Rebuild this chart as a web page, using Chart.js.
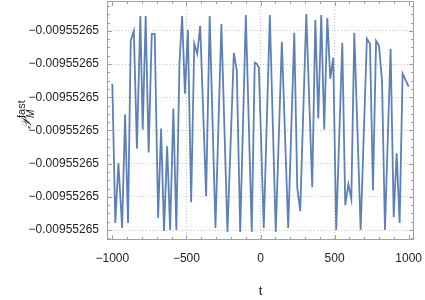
<!DOCTYPE html>
<html lang="en">
<head>
<meta charset="UTF-8" />
<title>P_M fast against t</title>
<script src="https://cdn.jsdelivr.net/npm/chart.js"></script>
<style>
  html, body { margin: 0; padding: 0; background: #fff; }
  #wrap { width: 425px; height: 300px; }
</style>
</head>
<body>
<div id="wrap"><canvas id="chart" width="425" height="300"></canvas></div>
<script>
// values; y is in grid steps above the lowest grid line
const times = [
  -1000, -980, -959, -934, -914, -894, -876, -855, -834, -811,
  -795, -775, -755, -734, -714, -691, -671, -651, -630, -610,
  -588, -568, -547, -529, -510, -490, -468, -447, -427, -407,
  -367, -343, -304, -264, -223, -180, -160, -137, -99, -59,
  -39, -25, -11, 22, 63, 103, 144, 187, 228, 248,
  268, 309, 349, 370, 390, 410, 430, 451, 471, 491,
  511, 552, 572, 593, 613, 633, 676, 718, 739, 759,
  780, 800, 820, 840, 878, 899, 919, 939, 959, 1000
];
const values = [
  4.41, 0.21, 2.01, 0.06, 3.48, 0.21, 5.70, 6.00, 2.46, 6.45,
  3.03, 6.45, 2.34, 5.91, 5.91, 0.36, 3.06, -0.03, 2.52, 0.00,
  3.66, 0.00, 5.01, 6.45, 4.11, 6.03, 0.84, 5.61, 5.31, 6.15,
  1.02, 6.45, 0.06, 6.21, -0.06, 5.34, 4.80, -0.06, 6.48, -0.06,
  5.04, 5.01, 4.89, 0.06, 6.48, -0.06, 5.67, 0.06, 5.94, 1.29,
  0.57, 6.51, 1.29, 6.33, 3.36, 6.48, 3.03, 6.39, 4.56, 5.19,
  0.00, 5.64, 0.75, 1.38, 0.93, 5.94, 0.00, 5.76, 5.61, 1.20,
  5.70, 5.55, 4.50, 0.00, 5.46, 0.39, 2.31, 0.21, 4.71, 4.32
];
const xTickValues = [-1000, -500, 0, 500, 1000];
const xTickLabels = ['\u22121000', '\u2212500', '0', '500', '1000'];
const yTickValues = [0, 1, 2, 3, 4, 5, 6];
const yTickLabels = [
  '\u22120.00955265', '\u22120.00955265', '\u22120.00955265', '\u22120.00955265',
  '\u22120.00955265', '\u22120.00955265', '\u22120.00955265'
];

const frameColor = '#a0a0a0';
const labelFont = { family: 'Liberation Sans', size: 12 };

// Mathematica style frame: box with inward ticks on all four sides
const framePlugin = {
  id: 'frame',
  afterDatasetsDraw(chart) {
    const { ctx, chartArea: a, scales: { x, y } } = chart;
    ctx.save();
    ctx.strokeStyle = frameColor;
    ctx.lineWidth = 1;
    ctx.strokeRect(a.left + 0.5, a.top + 0.5, a.right - a.left - 1, a.bottom - a.top - 1);
    ctx.beginPath();
    for (let t = -1000; t <= 1000; t += 100) {
      const px = Math.round(x.getPixelForValue(t)) + 0.5;
      const len = t % 500 === 0 ? 5 : 3;
      ctx.moveTo(px, a.bottom); ctx.lineTo(px, a.bottom - len);
      ctx.moveTo(px, a.top); ctx.lineTo(px, a.top + len);
    }
    for (let v = -0.25; v <= 6.8; v += 0.25) {
      const py = Math.round(y.getPixelForValue(v)) + 0.5;
      const len = Math.abs(v - Math.round(v)) < 0.01 ? 5 : 3;
      ctx.moveTo(a.left, py); ctx.lineTo(a.left + len, py);
      ctx.moveTo(a.right, py); ctx.lineTo(a.right - len, py);
    }
    ctx.stroke();
    ctx.restore();
  }
};

// rotated y title with subscript and superscript
const yTitlePlugin = {
  id: 'yTitle',
  afterDraw(chart) {
    const { ctx } = chart;
    ctx.save();
    ctx.translate(31, 129);
    ctx.rotate(-Math.PI / 2);
    ctx.fillStyle = '#222';
    ctx.textBaseline = 'alphabetic';
    ctx.font = 'italic 14px "DejaVu Serif"';
    ctx.fillText('\u{1D4AB}', 0, 0);
    ctx.font = 'italic 10px "Liberation Sans"';
    ctx.fillText('M', 11, 3);
    ctx.font = '11px "Liberation Sans"';
    ctx.fillText('fast', 11, -6);
    ctx.restore();
  }
};

const noPad = s => { s.paddingTop = 0; s.paddingBottom = 0; s.paddingLeft = 0; s.paddingRight = 0; };

new Chart(document.getElementById('chart'), {
  type: 'line',
  data: {
    datasets: [{
      data: times.map((t, i) => ({ x: t, y: values[i] })),
      borderColor: '#5e81b5',
      borderWidth: 1.8,
      pointRadius: 0,
      tension: 0,
      fill: false
    }]
  },
  options: {
    responsive: false,
    animation: false,
    devicePixelRatio: 1,
    layout: { padding: { top: 1, right: 11, left: 0, bottom: 0 } },
    plugins: { legend: { display: false }, tooltip: { enabled: false } },
    scales: {
      x: {
        type: 'linear',
        min: -1036,
        max: 1036,
        afterBuildTicks: s => { s.ticks = xTickValues.map(v => ({ value: v })); },
        afterFit: s => { s.height = 60; noPad(s); },
        grid: {
          drawTicks: false,
          color: c => (Math.abs(c.tick.value) === 1000 ? 'rgba(0,0,0,0)' : '#c8c8c8'),
          lineWidth: 1
        },
        border: { display: false, dash: [1, 2] },
        ticks: {
          padding: 11,
          maxRotation: 0,
          color: '#222',
          font: labelFont,
          callback: (v, i) => xTickLabels[i]
        },
        title: { display: true, text: 't', color: '#222', font: { family: 'Liberation Sans', size: 13 }, padding: { bottom: 1, top: 0 } }
      },
      y: {
        type: 'linear',
        min: -0.3,
        max: 6.9,
        afterBuildTicks: s => { s.ticks = yTickValues.map(v => ({ value: v })); },
        afterFit: s => { s.width = 107; noPad(s); },
        grid: { drawTicks: false, color: '#c8c8c8', lineWidth: 1 },
        border: { display: false, dash: [1, 2] },
        ticks: {
          padding: 8,
          color: '#222',
          font: labelFont,
          callback: (v, i) => yTickLabels[i]
        }
      }
    }
  },
  plugins: [framePlugin, yTitlePlugin]
});
</script>
</body>
</html>
